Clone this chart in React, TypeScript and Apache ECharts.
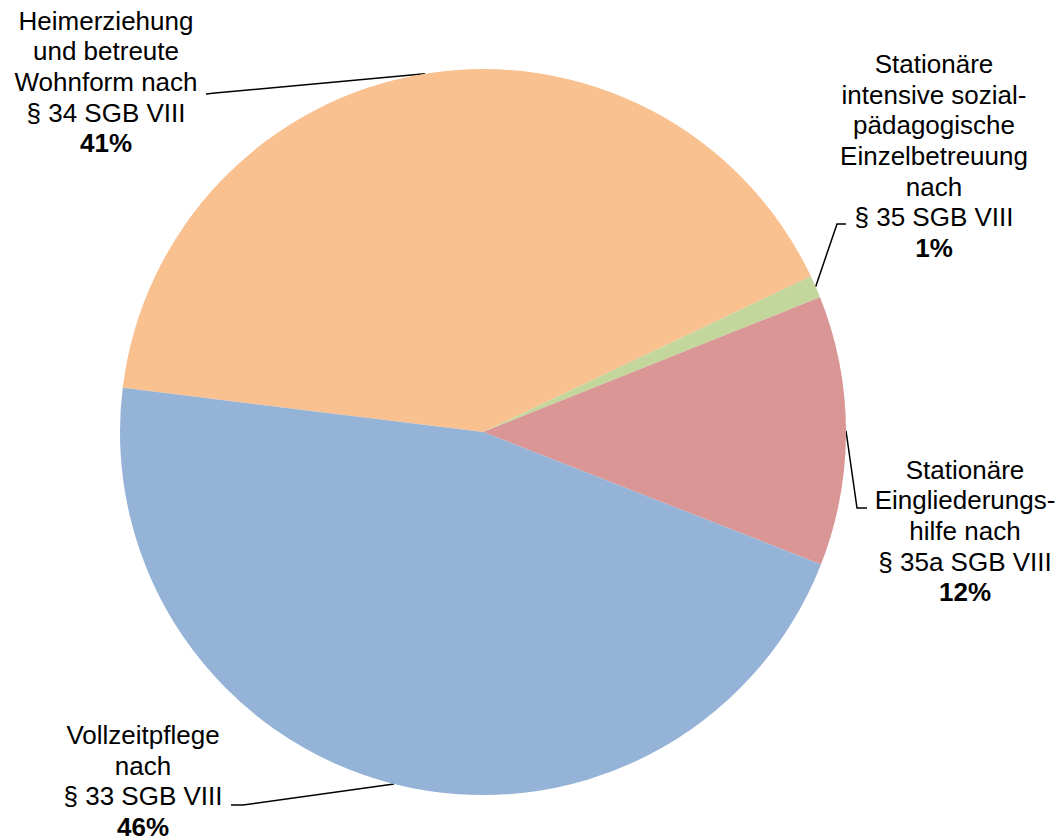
import React, { useEffect, useRef } from "react";
import * as echarts from "echarts";

const categories: string[][] = [
  ["Heimerziehung", "und betreute", "Wohnform nach", "§ 34 SGB VIII"],
  ["Stationäre", "intensive sozial-", "pädagogische", "Einzelbetreuung", "nach", "§ 35 SGB VIII"],
  ["Stationäre", "Eingliederungs-", "hilfe nach", "§ 35a SGB VIII"],
  ["Vollzeitpflege", "nach", "§ 33 SGB VIII"],
];
const values: number[] = [41, 1, 12, 46];
const colors: string[] = ["#F9C090", "#C3D69B", "#D99694", "#95B3D7"];

// label block centres and leader-line bends (pixel layout, not data)
const labelPos: number[][] = [
  [106, 82],
  [934, 156],
  [965, 531],
  [143, 781],
];
const linePts: number[][][] = [
  [[215, 93], [206, 94]],
  [[837, 224], [846, 224]],
  [[857, 508], [867, 508]],
  [[243, 805], [231, 805]],
];

export default function App() {
  const ref = useRef<HTMLDivElement>(null);
  useEffect(() => {
    if (!ref.current) return;
    const chart = echarts.init(ref.current, undefined, { renderer: "svg" });
    const data = values.map((v, i) => ({
      value: v,
      name: categories[i].join(" "),
      itemStyle: { color: colors[i] },
      label: {
        formatter: categories[i].map((l) => `{a|${l}}`).join("\n") + `\n{b|${v}%}`,
      },
    }));
    chart.setOption({
      animation: false,
      backgroundColor: "#ffffff",
      series: [
        {
          type: "pie",
          center: [483, 432],
          radius: 363,
          startAngle: 173,
          clockwise: true,
          data,
          itemStyle: { borderWidth: 0 },
          emphasis: { disabled: true },
          label: {
            show: true,
            position: "outside",
            overflow: "none",
            color: "#000",
            fontFamily: "Liberation Sans, Arial, sans-serif",
            align: "center",
            rich: {
              a: {
                fontSize: 26,
                lineHeight: 30.6,
                fontFamily: "Liberation Sans, Arial, sans-serif",
                color: "#000",
                align: "center",
              },
              b: {
                fontSize: 26,
                lineHeight: 30.6,
                fontWeight: "bold",
                fontFamily: "Liberation Sans, Arial, sans-serif",
                color: "#000",
                align: "center",
              },
            },
          },
          labelLine: {
            show: true,
            smooth: false,
            lineStyle: { color: "#000", width: 1.5 },
          },
          labelLayout: (params: any) => {
            const i = params.dataIndex;
            const p0 = params.labelLinePoints ? params.labelLinePoints[0] : linePts[i][0];
            return {
              x: labelPos[i][0],
              y: labelPos[i][1],
              align: "center",
              verticalAlign: "middle",
              labelLinePoints: [p0, linePts[i][0], linePts[i][1]],
            };
          },
        },
      ],
    });
    return () => chart.dispose();
  }, []);
  return (
    <div
      ref={ref}
      style={{ position: "fixed", left: 0, top: 0, width: 1063, height: 838 }}
    />
  );
}
